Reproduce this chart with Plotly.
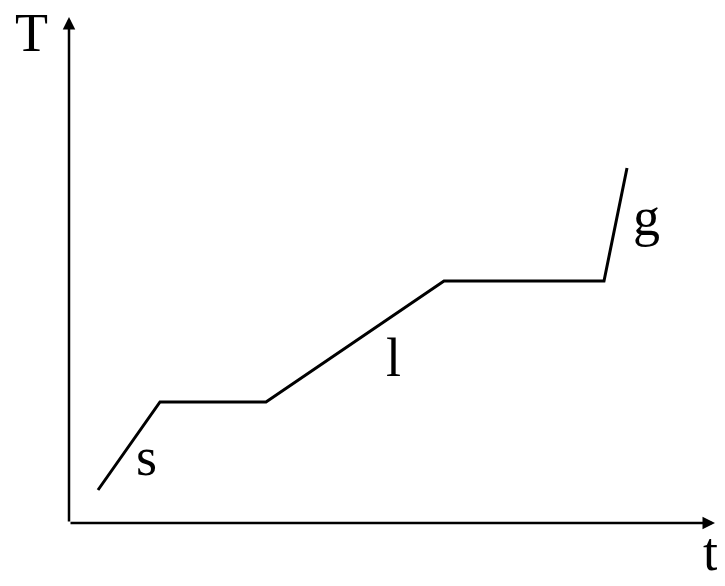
import plotly.graph_objects as go

# Heating curve (pixel-scale units)
time_vals = [29, 91, 197, 375, 535, 558]
temp_vals = [33, 121, 121, 242, 242, 355]
phase_labels = ["s", "l", "g"]
phase_t = [77, 324, 577]
phase_T = [66, 165, 306]
x_max = 646
y_max = 506

fig = go.Figure()
fig.add_trace(go.Scatter(x=time_vals, y=temp_vals, mode="lines",
                         line=dict(color="black", width=3), hoverinfo="skip"))

font = dict(family="Liberation Serif, Times New Roman, serif", size=54, color="black")

# axes with arrows
fig.add_annotation(x=x_max, y=0, ax=0, ay=0, xref="x", yref="y", axref="x", ayref="y",
                   showarrow=True, arrowhead=2, arrowsize=1, arrowwidth=2.5, arrowcolor="black", text="")
fig.add_annotation(x=0, y=y_max, ax=0, ay=0, xref="x", yref="y", axref="x", ayref="y",
                   showarrow=True, arrowhead=2, arrowsize=1, arrowwidth=2.5, arrowcolor="black", text="")

for lab, xt, yt in zip(phase_labels, phase_t, phase_T):
    fig.add_annotation(x=xt, y=yt, text=lab, showarrow=False, font=font,
                       xanchor="center", yanchor="middle")

fig.add_annotation(x=-38 / x_max, y=490 / y_max, text="T", showarrow=False, font=font,
                   xanchor="center", yanchor="middle", xref="paper", yref="paper")
fig.add_annotation(x=641 / x_max, y=-29 / y_max, text="t", showarrow=False, font=font,
                   xanchor="center", yanchor="middle", xref="paper", yref="paper")

fig.update_xaxes(range=[0, x_max], visible=False)
fig.update_yaxes(range=[0, y_max], visible=False)
fig.update_layout(width=725, height=586, showlegend=False,
                  margin=dict(l=61, r=18, t=9, b=71, autoexpand=False),
                  plot_bgcolor="white", paper_bgcolor="white")
fig.write_html("out.html")
